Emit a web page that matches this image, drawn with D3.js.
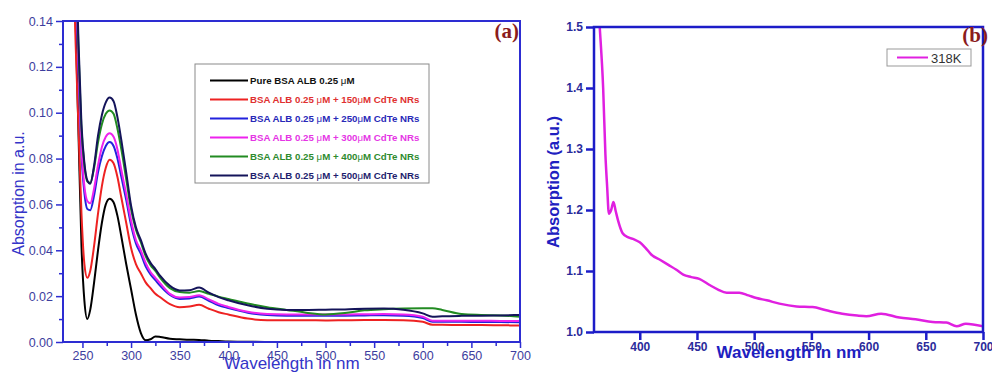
<!DOCTYPE html>
<html>
<head>
<meta charset="utf-8">
<script src="https://cdn.jsdelivr.net/npm/d3@7"></script>
<style>
  body { margin: 0; background: #fff; }
  svg { display: block; font-family: "Liberation Sans", Arial, sans-serif; }
</style>
</head>
<body>
<svg width="992" height="372"></svg>
<script>
// ---- panel (a) data ----
const wlA = [240, 243, 246, 249, 252, 255, 258, 262, 266, 270, 274, 278, 282, 286, 290, 295, 300, 305, 310, 315, 320, 325, 330, 340, 350, 360, 370, 380, 390, 400, 420, 440, 460, 480, 500, 520, 540, 560, 580, 600, 610, 620, 640, 660, 680, 700];

const pureBSA = [0.20, 0.14, 0.09, 0.042, 0.018, 0.010, 0.014, 0.026, 0.040, 0.052, 0.060, 0.0625, 0.061, 0.055, 0.046, 0.034, 0.023, 0.012, 0.004, 0.0008, 0.0012, 0.0024, 0.0022, 0.0014, 0.0012, 0.001, 0.0009, 0.0006, 0.0004, 0.0002, 0.0001, 0, 0, 0, 0, 0, 0, 0, 0, 0, 0, 0, 0, 0, 0, 0];
const nr150 = [0.175, 0.13, 0.093, 0.056, 0.034, 0.028, 0.031, 0.042, 0.056, 0.068, 0.076, 0.0795, 0.078, 0.072, 0.063, 0.052, 0.041, 0.034, 0.030, 0.026, 0.0235, 0.021, 0.0195, 0.0165, 0.0152, 0.0155, 0.0162, 0.0145, 0.013, 0.012, 0.0102, 0.0095, 0.0095, 0.0095, 0.0094, 0.0095, 0.0096, 0.0096, 0.0095, 0.0088, 0.0075, 0.0075, 0.0074, 0.0074, 0.0073, 0.0072];
const nr250 = [0.225, 0.16, 0.117, 0.082, 0.065, 0.058, 0.0575, 0.064, 0.074, 0.081, 0.0855, 0.0872, 0.0855, 0.080, 0.072, 0.062, 0.051, 0.043, 0.0385, 0.033, 0.0295, 0.027, 0.0245, 0.0205, 0.0188, 0.019, 0.0198, 0.018, 0.016, 0.0148, 0.0128, 0.0118, 0.0115, 0.0115, 0.0115, 0.0115, 0.0116, 0.0117, 0.0115, 0.0105, 0.0088, 0.0088, 0.0088, 0.0087, 0.0087, 0.0086];
const nr300 = [0.23, 0.165, 0.12, 0.085, 0.068, 0.0615, 0.0605, 0.067, 0.077, 0.085, 0.0895, 0.091, 0.0895, 0.084, 0.075, 0.0645, 0.053, 0.0445, 0.040, 0.0345, 0.0305, 0.028, 0.0255, 0.021, 0.0194, 0.0196, 0.0204, 0.0186, 0.0166, 0.0153, 0.0132, 0.0122, 0.012, 0.012, 0.012, 0.012, 0.0121, 0.0122, 0.012, 0.011, 0.0093, 0.0093, 0.0093, 0.0093, 0.0092, 0.0092];
const nr400 = [0.235, 0.17, 0.127, 0.093, 0.077, 0.070, 0.0695, 0.076, 0.087, 0.095, 0.0995, 0.101, 0.0995, 0.093, 0.084, 0.071, 0.058, 0.049, 0.0435, 0.0375, 0.0335, 0.031, 0.028, 0.0235, 0.0218, 0.0215, 0.0222, 0.021, 0.0198, 0.0188, 0.0168, 0.0152, 0.014, 0.0128, 0.012, 0.0126, 0.0138, 0.0143, 0.0146, 0.0147, 0.0147, 0.014, 0.0122, 0.0118, 0.0116, 0.011];
const nr500 = [0.24, 0.175, 0.13, 0.095, 0.078, 0.0705, 0.069, 0.077, 0.090, 0.099, 0.1045, 0.1066, 0.105, 0.098, 0.088, 0.074, 0.0595, 0.050, 0.0445, 0.0385, 0.0345, 0.0318, 0.0288, 0.0245, 0.0225, 0.0226, 0.0238, 0.0215, 0.0196, 0.0182, 0.016, 0.0145, 0.014, 0.014, 0.0141, 0.0142, 0.0145, 0.0146, 0.0141, 0.0125, 0.011, 0.0112, 0.0114, 0.0115, 0.0116, 0.0118];

const seriesA = [pureBSA, nr150, nr250, nr300, nr400, nr500];
const labelsA = [
  "Pure BSA ALB 0.25 μM",
  "BSA ALB 0.25 μM + 150μM CdTe NRs",
  "BSA ALB 0.25 μM + 250μM CdTe NRs",
  "BSA ALB 0.25 μM + 300μM CdTe NRs",
  "BSA ALB 0.25 μM + 400μM CdTe NRs",
  "BSA ALB 0.25 μM + 500μM CdTe NRs"
];
const colorsA = ["#000000", "#ee2222", "#2222dd", "#ee22ee", "#228b22", "#14145a"];
const textColorsA = ["#111111", "#e03030", "#2828b8", "#e535e5", "#2e8b2e", "#1e1e6e"];
const xTicksA = [250, 300, 350, 400, 450, 500, 550, 600, 650, 700];
const yTicksA = [0, 0.02, 0.04, 0.06, 0.08, 0.10, 0.12, 0.14];

// ---- panel (b) data ----
const wlB = [363, 365, 368, 370, 371.5, 373, 375, 377, 379, 381, 385, 390, 395, 400, 405, 410, 418, 425, 432, 438, 445, 452, 461, 468, 476, 487, 495, 502, 511, 522, 537, 551, 563, 577, 590, 598, 611, 627, 641, 656, 668, 677, 685, 700];
const k318 = [1.56, 1.50, 1.40, 1.29, 1.238, 1.194, 1.20, 1.213, 1.198, 1.183, 1.162, 1.155, 1.152, 1.147, 1.138, 1.127, 1.118, 1.11, 1.102, 1.094, 1.09, 1.087, 1.077, 1.07, 1.0645, 1.0645, 1.06, 1.0557, 1.052, 1.0465, 1.042, 1.041, 1.0356, 1.030, 1.027, 1.026, 1.030, 1.0236, 1.0208, 1.0164, 1.0154, 1.0093, 1.0137, 1.0093];
const xTicksB = [400, 450, 500, 550, 600, 650, 700];
const yTicksB = [1.0, 1.1, 1.2, 1.3, 1.4, 1.5];

const svg = d3.select("svg");

// ================= panel (a) =================
const A = { left: 63, right: 520, top: 21, bottom: 342 };
const xA = d3.scaleLinear().domain([230, 700]).range([A.left, A.right]);
const yA = d3.scaleLinear().domain([0, 0.14]).range([A.bottom, A.top]);
const axisA = "#2d2dd2";
const tickTextA = "#3d3d9e";

svg.append("clipPath").attr("id", "clipA")
  .append("rect").attr("x", A.left).attr("y", A.top)
  .attr("width", A.right - A.left).attr("height", A.bottom - A.top);

const lineA = d3.line()
  .x((d, i) => xA(wlA[i]))
  .y(d => yA(d))
  .curve(d3.curveMonotoneX);

const gA = svg.append("g").attr("clip-path", "url(#clipA)");
seriesA.forEach((s, i) => {
  gA.append("path")
    .attr("d", lineA(s))
    .attr("fill", "none")
    .attr("stroke", colorsA[i])
    .attr("stroke-width", 2);
});

// minor ticks
svg.append("g")
  .attr("transform", `translate(0,${A.bottom})`)
  .call(d3.axisBottom(xA).tickValues(d3.range(275, 700, 50)).tickSize(4).tickFormat(""))
  .call(g => g.select(".domain").remove())
  .call(g => g.selectAll("line").attr("stroke", axisA).attr("stroke-width", 1.5));
svg.append("g")
  .attr("transform", `translate(${A.left},0)`)
  .call(d3.axisLeft(yA).tickValues(d3.range(0.01, 0.14, 0.02)).tickSize(4).tickFormat(""))
  .call(g => g.select(".domain").remove())
  .call(g => g.selectAll("line").attr("stroke", axisA).attr("stroke-width", 1.5));

// major ticks
svg.append("g")
  .attr("transform", `translate(0,${A.bottom})`)
  .call(d3.axisBottom(xA).tickValues(xTicksA).tickSize(6).tickPadding(3))
  .call(g => g.select(".domain").remove())
  .call(g => g.selectAll("line").attr("stroke", axisA).attr("stroke-width", 1.5))
  .call(g => g.selectAll("text").attr("fill", tickTextA).style("font-size", "12.5px")
    .style("font-family", "'Liberation Sans', Arial, sans-serif"));
svg.append("g")
  .attr("transform", `translate(${A.left},0)`)
  .call(d3.axisLeft(yA).tickValues(yTicksA).tickSize(7).tickPadding(3).tickFormat(d3.format(".2f")))
  .call(g => g.select(".domain").remove())
  .call(g => g.selectAll("line").attr("stroke", axisA).attr("stroke-width", 1.5))
  .call(g => g.selectAll("text").attr("fill", tickTextA).style("font-size", "12.5px")
    .style("font-family", "'Liberation Sans', Arial, sans-serif"));

svg.append("rect")
  .attr("x", A.left).attr("y", A.top)
  .attr("width", A.right - A.left).attr("height", A.bottom - A.top)
  .attr("fill", "none").attr("stroke", axisA).attr("stroke-width", 2);

svg.append("text")
  .attr("transform", `translate(24,${(A.top + A.bottom) / 2 + 12}) rotate(-90)`)
  .attr("text-anchor", "middle")
  .attr("fill", "#3434c8")
  .style("font-size", "16px")
  .text("Absorption in a.u.");

svg.append("text")
  .attr("x", 292).attr("y", 369)
  .attr("text-anchor", "middle")
  .attr("fill", "#3434c8")
  .style("font-size", "17px")
  .text("Wavelength in nm");

svg.append("text")
  .attr("x", 519).attr("y", 38)
  .attr("text-anchor", "end")
  .attr("fill", "#8b1c1c")
  .style("font-family", "'Liberation Serif', 'Times New Roman', serif")
  .style("font-weight", "bold")
  .style("font-size", "21px")
  .text("(a)");

// legend (a)
const legA = svg.append("g");
legA.append("rect")
  .attr("x", 195).attr("y", 64).attr("width", 234).attr("height", 119)
  .attr("fill", "#fff").attr("stroke", "#8a8a8a").attr("stroke-width", 1);
labelsA.forEach((lab, i) => {
  const y = 80.5 + i * 19;
  legA.append("line")
    .attr("x1", 210).attr("x2", 248).attr("y1", y).attr("y2", y)
    .attr("stroke", colorsA[i]).attr("stroke-width", 2);
  const t = legA.append("text")
    .attr("x", 250).attr("y", y + 3.5)
    .attr("fill", textColorsA[i])
    .style("font-size", "9.7px")
    .style("font-weight", "bold");
  lab.split(/(μ)/).forEach(part => {
    t.append("tspan")
      .style("font-weight", part === "μ" ? "normal" : "bold")
      .text(part);
  });
});

// ================= panel (b) =================
const B = { left: 594, right: 983, top: 27, bottom: 332 };
const xB = d3.scaleLinear().domain([360, 700]).range([B.left, B.right]);
const yB = d3.scaleLinear().domain([1.0, 1.5]).range([B.bottom, B.top]);
const axisB = "#1c1cc8";
const tickTextB = "#2b2b9b";

svg.append("clipPath").attr("id", "clipB")
  .append("rect").attr("x", B.left).attr("y", B.top)
  .attr("width", B.right - B.left).attr("height", B.bottom - B.top);

const lineB = d3.line()
  .x((d, i) => xB(wlB[i]))
  .y(d => yB(d))
  .curve(d3.curveMonotoneX);

svg.append("g").attr("clip-path", "url(#clipB)")
  .append("path")
  .attr("d", lineB(k318))
  .attr("fill", "none")
  .attr("stroke", "#e020e0")
  .attr("stroke-width", 2.5);

svg.append("g")
  .attr("transform", `translate(0,${B.bottom})`)
  .call(d3.axisBottom(xB).tickValues(xTicksB).tickSize(8).tickPadding(2))
  .call(g => g.select(".domain").remove())
  .call(g => g.selectAll("line").attr("stroke", axisB).attr("stroke-width", 2.5))
  .call(g => g.selectAll("text").attr("fill", tickTextB).style("font-size", "12px")
    .style("font-weight", "bold").style("font-family", "'Liberation Sans', Arial, sans-serif"));
svg.append("g")
  .attr("transform", `translate(${B.left},0)`)
  .call(d3.axisLeft(yB).tickValues(yTicksB).tickSize(8).tickPadding(3).tickFormat(d3.format(".1f")))
  .call(g => g.select(".domain").remove())
  .call(g => g.selectAll("line").attr("stroke", axisB).attr("stroke-width", 2.5))
  .call(g => g.selectAll("text").attr("fill", tickTextB).style("font-size", "12px")
    .style("font-weight", "bold").style("font-family", "'Liberation Sans', Arial, sans-serif"));

svg.append("rect")
  .attr("x", B.left).attr("y", B.top)
  .attr("width", B.right - B.left).attr("height", B.bottom - B.top)
  .attr("fill", "none").attr("stroke", axisB).attr("stroke-width", 2.5);

svg.append("text")
  .attr("transform", `translate(559,182) rotate(-90)`)
  .attr("text-anchor", "middle")
  .attr("fill", "#2020c0")
  .style("font-size", "16.5px")
  .style("font-weight", "bold")
  .text("Absorption (a.u.)");

svg.append("text")
  .attr("x", 789).attr("y", 358)
  .attr("text-anchor", "middle")
  .attr("fill", "#2020c0")
  .style("font-size", "17px")
  .style("font-weight", "bold")
  .text("Wavelength in nm");

svg.append("text")
  .attr("x", 988).attr("y", 42)
  .attr("text-anchor", "end")
  .attr("fill", "#8b1c1c")
  .style("font-family", "'Liberation Serif', 'Times New Roman', serif")
  .style("font-weight", "bold")
  .style("font-size", "21px")
  .text("(b)");

// legend (b)
const legB = svg.append("g");
legB.append("rect")
  .attr("x", 887).attr("y", 49).attr("width", 84).attr("height", 17)
  .attr("fill", "#fff").attr("stroke", "#999").attr("stroke-width", 1);
legB.append("line")
  .attr("x1", 897).attr("x2", 928).attr("y1", 57.5).attr("y2", 57.5)
  .attr("stroke", "#e020e0").attr("stroke-width", 2);
legB.append("text")
  .attr("x", 931).attr("y", 62.5)
  .attr("fill", "#333")
  .style("font-size", "13px")
  .text("318K");
</script>
</body>
</html>
